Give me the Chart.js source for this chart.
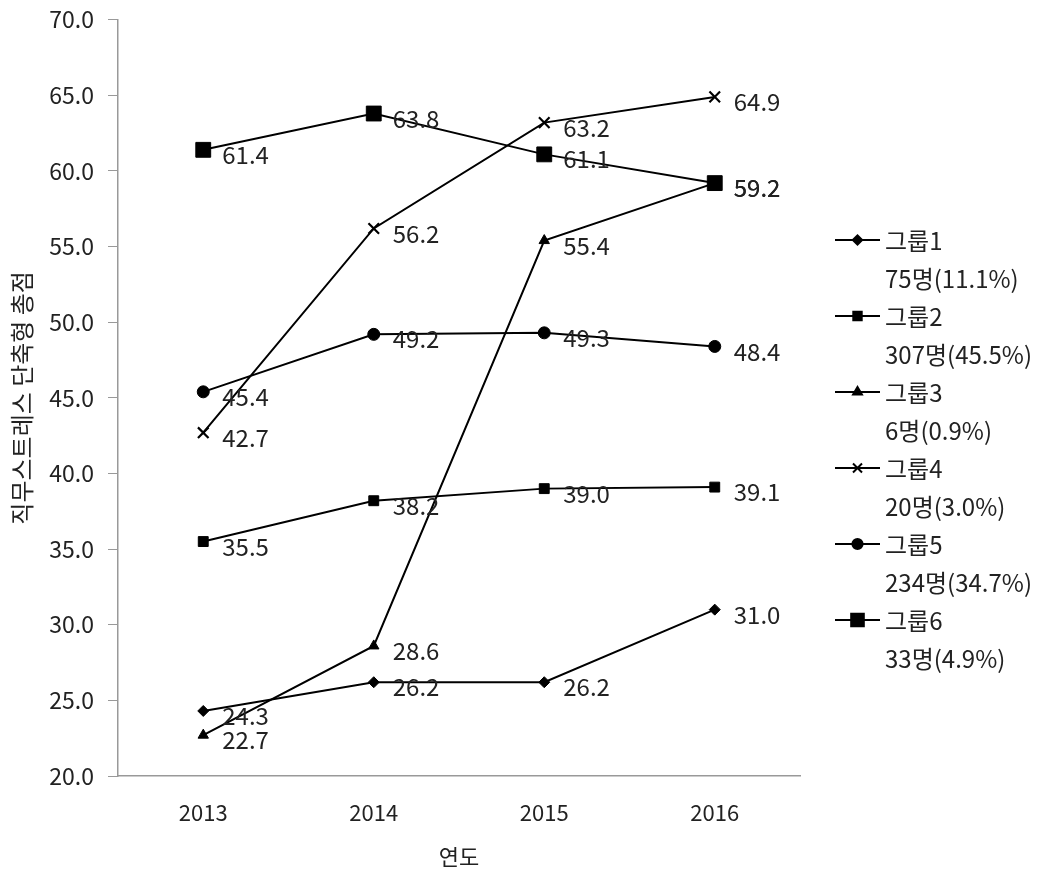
<!DOCTYPE html>
<html>
<head>
<meta charset="utf-8">
<script src="https://cdn.jsdelivr.net/npm/chart.js@4/dist/chart.umd.min.js"></script>
<style>
    html, body { margin: 0; padding: 0; background: #fff; }
    #wrap { width: 1047px; height: 875px; }
</style>
</head>
<body>
<div id="wrap"><canvas id="stress-chart" width="1047" height="875"></canvas></div>
<script>
const years = ['2013', '2014', '2015', '2016'];
const groupNames = ['그룹1', '그룹2', '그룹3', '그룹4', '그룹5', '그룹6'];
const groupCounts = ['75명(11.1%)', '307명(45.5%)', '6명(0.9%)', '20명(3.0%)', '234명(34.7%)', '33명(4.9%)'];

const group1 = [24.3, 26.2, 26.2, 31.0];
const group2 = [35.5, 38.2, 39.0, 39.1];
const group3 = [22.7, 28.6, 55.4, 59.2];
const group4 = [42.7, 56.2, 63.2, 64.9];
const group5 = [45.4, 49.2, 49.3, 48.4];
const group6 = [61.4, 63.8, 61.1, 59.2];

const FONT = "'Noto Sans CJK KR', 'Noto Sans', sans-serif";
const TEXT = '#222';

const markers = [
    { style: 'rectRot', radius: 5.5 },
    { style: 'rect', radius: 7 },
    { style: 'triangle', radius: 6 },
    { style: 'crossRot', radius: 7.5 },
    { style: 'circle', radius: 6 },
    { style: 'rect', radius: 10.5 }
];

function makeDataset(i, values) {
    return {
        label: groupNames[i],
        data: values,
        borderColor: '#000',
        backgroundColor: '#000',
        borderWidth: 2,
        pointStyle: markers[i].style,
        pointRadius: markers[i].radius,
        pointHoverRadius: markers[i].radius,
        pointBorderWidth: markers[i].style === 'crossRot' ? 2.2 : 1,
        tension: 0
    };
}

// value labels to the right of each point
const valueLabels = {
    id: 'valueLabels',
    afterDatasetsDraw(chart) {
        const ctx = chart.ctx;
        ctx.save();
        ctx.font = '24px ' + FONT;
        ctx.fillStyle = TEXT;
        ctx.textAlign = 'left';
        ctx.textBaseline = 'middle';
        chart.data.datasets.forEach((ds, i) => {
            chart.getDatasetMeta(i).data.forEach((pt, j) => {
                ctx.fillText(ds.data[j].toFixed(1), pt.x + 19, pt.y + 5);
            });
        });
        ctx.restore();
    }
};

// two-line legend on the right
const sideLegend = {
    id: 'sideLegend',
    afterDraw(chart) {
        const ctx = chart.ctx;
        const x0 = 835, x1 = 880, top = 240, step = 38;
        ctx.save();
        ctx.font = '24px ' + FONT;
        ctx.textAlign = 'left';
        ctx.textBaseline = 'middle';
        chart.data.datasets.forEach((ds, i) => {
            const y = top + step * 2 * i;
            ctx.strokeStyle = '#000';
            ctx.lineWidth = 2;
            ctx.beginPath();
            ctx.moveTo(x0, y);
            ctx.lineTo(x1, y);
            ctx.stroke();
            ctx.fillStyle = '#000';
            Chart.helpers.drawPoint(ctx, {
                pointStyle: markers[i].style,
                radius: markers[i].radius * 0.85,
                rotation: 0,
                borderWidth: markers[i].style === 'crossRot' ? 1.5 : 1
            }, (x0 + x1) / 2, y);
            ctx.fillStyle = TEXT;
            ctx.fillText(groupNames[i], x1 + 5, y + 1);
            ctx.fillText(groupCounts[i], x1 + 5, y + step + 1);
        });
        ctx.restore();
    }
};

const config = {
    type: 'line',
    data: {
        labels: years,
        datasets: [group1, group2, group3, group4, group5, group6].map((v, i) => makeDataset(i, v))
    },
    options: {
        responsive: false,
        animation: false,
        layout: { padding: { left: 0, right: 247, top: 12, bottom: 0 } },
        plugins: {
            legend: { display: false },
            tooltip: { enabled: false }
        },
        scales: {
            x: {
                offset: true,
                grid: { drawOnChartArea: false, drawTicks: false },
                border: { color: '#999', width: 1.5 },
                ticks: { color: TEXT, font: { family: FONT, size: 22 }, padding: 23 },
                title: { display: true, text: '연도', color: TEXT, font: { family: FONT, size: 22 }, padding: { top: 5, bottom: 5 } },
                afterFit: s => { s.height = 99; }
            },
            y: {
                min: 20,
                max: 70,
                ticks: {
                    stepSize: 5,
                    color: TEXT,
                    font: { family: FONT, size: 23, lineHeight: 0.5 },
                    padding: 14,
                    callback: v => v.toFixed(1)
                },
                grid: { drawOnChartArea: false, tickLength: 10, color: '#999' },
                border: { color: '#999', width: 1.5 },
                title: { display: true, text: '직무스트레스 단축형 총점', color: TEXT, font: { family: FONT, size: 24 }, padding: { top: 7, bottom: 7 } },
                afterFit: s => { s.width = 118; }
            }
        }
    },
    plugins: [valueLabels, sideLegend]
};

new Chart(document.getElementById('stress-chart'), config);
</script>
</body>
</html>
